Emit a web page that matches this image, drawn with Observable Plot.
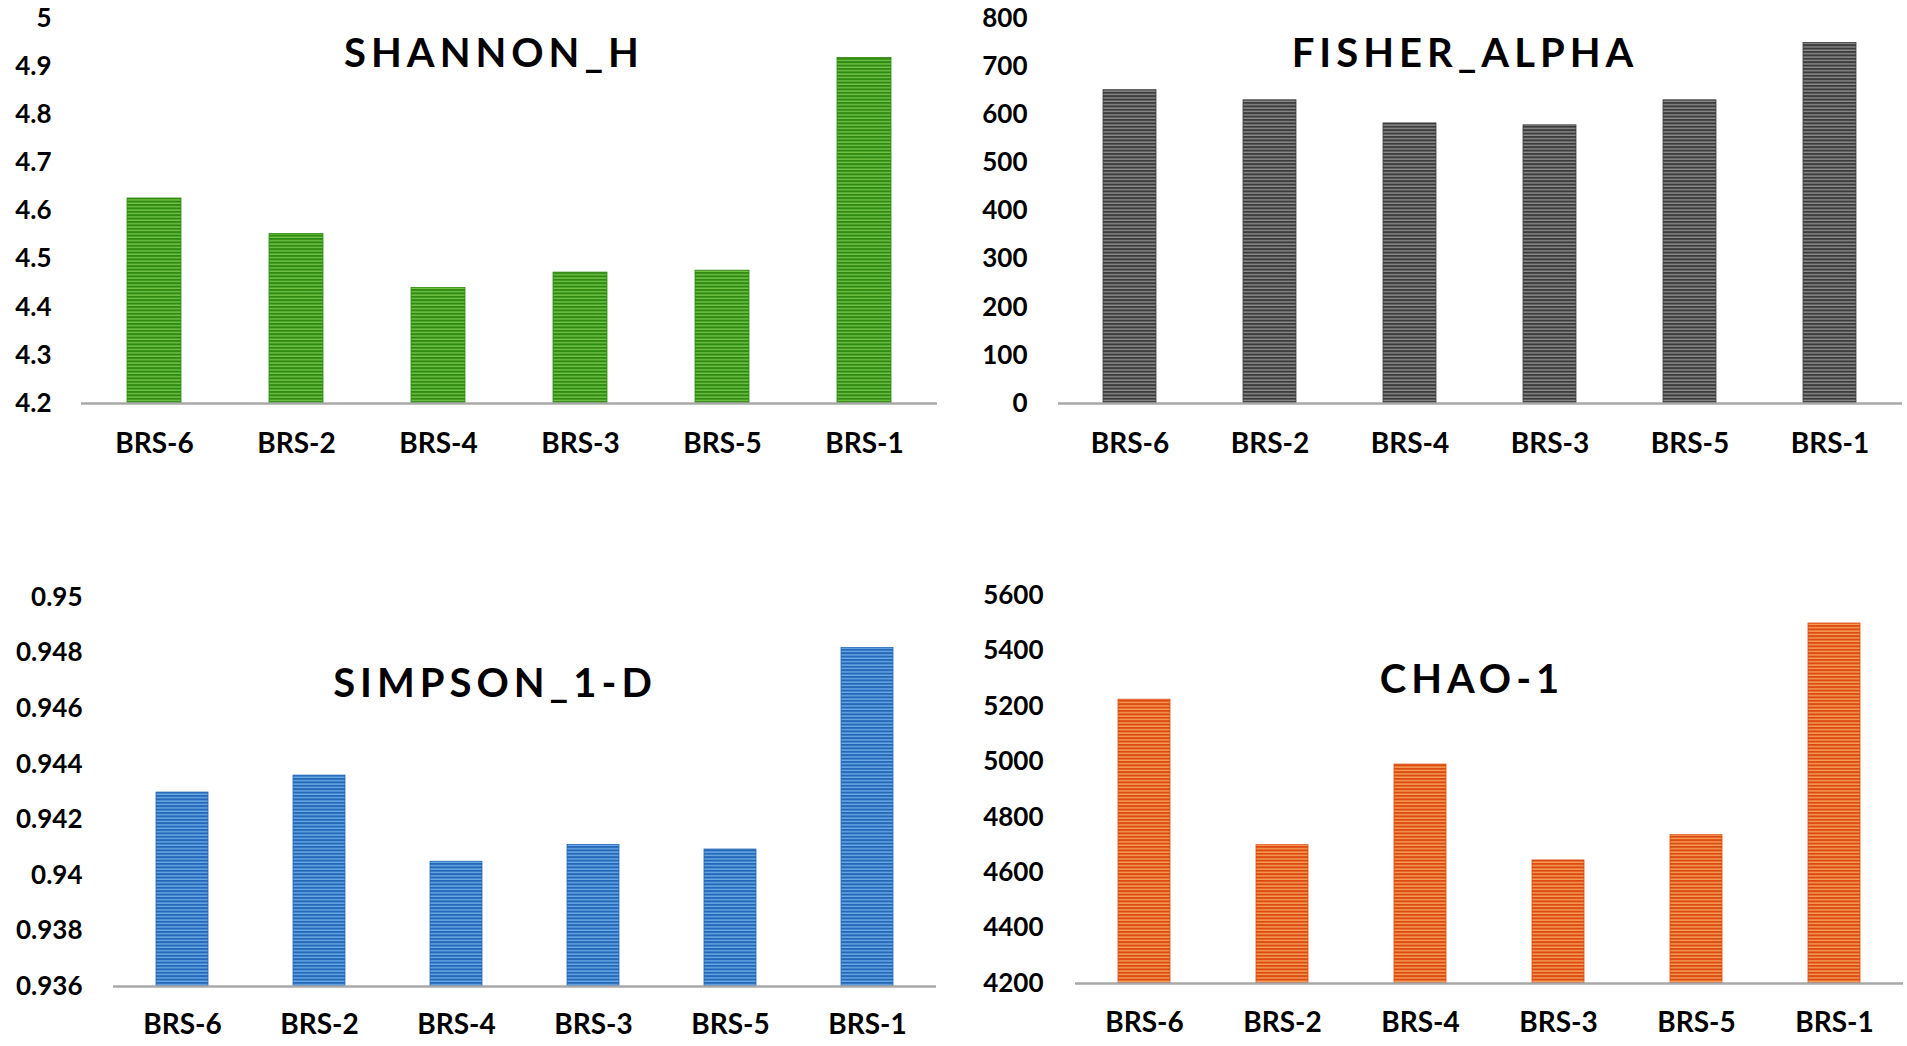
<!DOCTYPE html>
<html>
<head>
<meta charset="utf-8">
<script src="https://cdn.jsdelivr.net/npm/d3@7"></script>
<script src="https://cdn.jsdelivr.net/npm/@observablehq/plot@0.6"></script>
<style>
  html, body { margin: 0; padding: 0; background: #fff; }
  #root { position: relative; width: 1907px; height: 1046px; overflow: hidden; background: #fff; }
  .panel { position: absolute; }
  .panel text { font-weight: 700; }
  .title { position: absolute; width: 700px; text-align: center; font-family: Lato, sans-serif;
           font-weight: 700; font-size: 40px; line-height: 40px; letter-spacing: 5px; color: #000; }
</style>
</head>
<body>
<div id="root"></div>
<script>
// ---- data ----
const categories = ["BRS-6", "BRS-2", "BRS-4", "BRS-3", "BRS-5", "BRS-1"];
const shannonH   = [4.626, 4.552, 4.440, 4.472, 4.476, 4.918];
const fisherAlpha = [651, 630, 582, 578, 630, 749];
const simpson1D  = [0.94298, 0.94359, 0.94049, 0.94109, 0.94093, 0.94818];
const chao1      = [5224, 4699, 4990, 4644, 4735, 5499];

const shannonTicks = [4.2, 4.3, 4.4, 4.5, 4.6, 4.7, 4.8, 4.9, 5];
const fisherTicks  = [0, 100, 200, 300, 400, 500, 600, 700, 800];
const simpsonTicks = [0.936, 0.938, 0.94, 0.942, 0.944, 0.946, 0.948, 0.95];
const chaoTicks    = [4200, 4400, 4600, 4800, 5000, 5200, 5400, 5600];

const titles = ["SHANNON_H", "FISHER_ALPHA", "SIMPSON_1-D", "CHAO-1"];

// ---- styling / layout ----
const panels = [
  {title: titles[0], values: shannonH, ticks: shannonTicks, id: "pg", dark: "#2f8a12", light: "#72c446",
   left: 0, top: 0, width: 950, height: 480, mt: 18, mb: 77, ml: 81, mr: 13, tp: 30, xp: 30, tx: 494, ty: 52},
  {title: titles[1], values: fisherAlpha, ticks: fisherTicks, id: "pk", dark: "#3c3c3c", light: "#8c8c8c",
   left: 950, top: 0, width: 957, height: 480, mt: 18, mb: 77, ml: 108, mr: 5, tp: 31, xp: 30, tx: 1465, ty: 52},
  {title: titles[2], values: simpson1D, ticks: simpsonTicks, id: "pb", dark: "#2468b8", light: "#6aaae6",
   left: 0, top: 540, width: 950, height: 506, mt: 57, mb: 60, ml: 113, mr: 14, tp: 31, xp: 28, tx: 495, ty: 682},
  {title: titles[3], values: chao1, ticks: chaoTicks, id: "po", dark: "#dc4a12", light: "#f6a058",
   left: 950, top: 540, width: 957, height: 506, mt: 55, mb: 63, ml: 125, mr: 4, tp: 32, xp: 29, tx: 1472, ty: 678}
];

const root = document.getElementById("root");
const svgns = "http://www.w3.org/2000/svg";

for (const p of panels) {
  const rows = categories.map((c, i) => ({cat: c, value: p.values[i]}));
  const yMin = p.ticks[0], yMax = p.ticks[p.ticks.length - 1];

  const defsMark = () => {
    const defs = document.createElementNS(svgns, "defs");
    const pat = document.createElementNS(svgns, "pattern");
    pat.setAttribute("id", p.id);
    pat.setAttribute("patternUnits", "userSpaceOnUse");
    pat.setAttribute("width", "10");
    pat.setAttribute("height", "3.4");
    const r1 = document.createElementNS(svgns, "rect");
    r1.setAttribute("width", "10"); r1.setAttribute("height", "3.4"); r1.setAttribute("fill", p.light);
    const r2 = document.createElementNS(svgns, "rect");
    r2.setAttribute("width", "10"); r2.setAttribute("height", "2"); r2.setAttribute("fill", p.dark);
    pat.appendChild(r1); pat.appendChild(r2);
    defs.appendChild(pat);
    return defs;
  };

  const chart = Plot.plot({
    width: p.width,
    height: p.height,
    marginTop: p.mt,
    marginBottom: p.mb,
    marginLeft: p.ml,
    marginRight: p.mr,
    style: {fontFamily: "Lato, sans-serif", fontWeight: 700, color: "#000", background: "transparent", overflow: "visible"},
    x: {domain: categories, paddingInner: 0.62, paddingOuter: 0.31, label: null},
    y: {domain: [yMin, yMax], label: null},
    marks: [
      defsMark,
      Plot.barY(rows, {x: "cat", y1: () => yMin, y2: "value", fill: `url(#${p.id})`,
                       stroke: p.dark, strokeWidth: 0.8}),
      Plot.ruleY([yMin], {stroke: "#a8a8a8", strokeWidth: 2.5}),
      Plot.axisY({ticks: p.ticks, tickFormat: d => String(d), tickSize: 0, tickPadding: p.tp,
                  fontSize: 26, label: null}),
      Plot.axisX({tickSize: 0, tickPadding: p.xp, fontSize: 28, label: null})
    ]
  });
  chart.classList.add("panel");
  chart.style.left = p.left + "px";
  chart.style.top = p.top + "px";
  root.appendChild(chart);

  const t = document.createElement("div");
  t.className = "title";
  t.textContent = p.title;
  t.style.left = (p.tx - 350) + "px";
  t.style.top = (p.ty - 20) + "px";
  root.appendChild(t);
}
</script>
</body>
</html>
